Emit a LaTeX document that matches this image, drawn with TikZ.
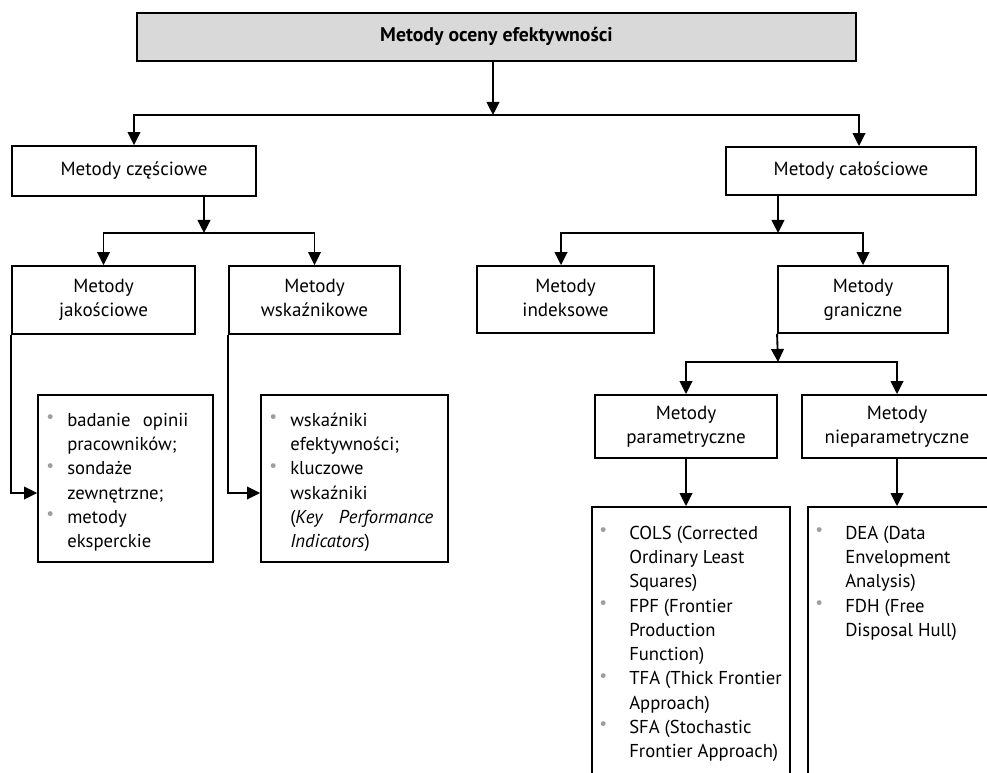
\documentclass[tikz,border=0pt]{standalone}
\usepackage{fontspec}
\setmainfont{PT Sans}
\usetikzlibrary{arrows.meta}

% one drawing unit = one screen pixel
\newdimen\pxu \pxu=0.75pt
\definecolor{titlefill}{HTML}{D9D9D9}
\definecolor{bulgray}{HTML}{9E9E9E}

% grey list bullets with hanging text column
\newcommand\bulmark{\textcolor{bulgray}{\raisebox{3.5\pxu}{\fontsize{13}{13}\selectfont\textbullet}}}
\newcommand\leftbul{\makebox[29\pxu][l]{\hspace{8\pxu}\bulmark}}
\newcommand\rightbul{\makebox[37\pxu][l]{\hspace{7\pxu}\bulmark}}
% centred lines inside a box
\newcommand\lines[1]{\begin{tabular}{@{}c@{}}#1\end{tabular}}

\tikzset{
  x=0.75pt, y=-0.75pt,
  sz/.style 2 args={minimum width=#1*0.75pt, minimum height=#2*0.75pt},
  mbox/.style={draw, line width=1.4pt, inner sep=0pt,
    font=\fontsize{14.3}{18}\selectfont},
  titlebox/.style={mbox, fill=titlefill, font=\bfseries\fontsize{14.8}{18}\selectfont},
  listtext/.style={inner sep=0pt, anchor=north west, font=\fontsize{14}{18.2}\selectfont},
  arr/.style={line width=1.4pt, -{Triangle[length=9.75pt,width=9.5pt]}},
}

\begin{document}
\begin{tikzpicture}
\useasboundingbox (0,0) rectangle (987,773);
\clip (0,0) rectangle (987,773);

% boxes
\node[titlebox, sz={719}{48}] (top) at (496.5,37) {\lines{Metody oceny efektywności}};
\node[mbox, sz={244}{50}] (czesc) at (134,171) {\lines{Metody częściowe}};
\node[mbox, sz={250}{48}] (calosc) at (851,171) {\lines{Metody całościowe}};
\node[mbox, sz={183}{68}] (jak) at (103.5,300) {\lines{Metody\\jakościowe}};
\node[mbox, sz={171}{68}] (wsk) at (314.5,300) {\lines{Metody\\wskaźnikowe}};
\node[mbox, sz={177}{67}] (indeks) at (565.5,299.5) {\lines{Metody\\indeksowe}};
\node[mbox, sz={170}{67}] (granicz) at (863,299.5) {\lines{Metody\\graniczne}};
\node[mbox, sz={182}{63}] (param) at (686,426.5) {\lines{Metody\\parametryczne}};
\node[mbox, sz={190}{63}] (nieparam) at (897,426.5) {\lines{Metody\\nieparametryczne}};

% list boxes
\node[mbox, sz={175}{167}] (jaklist) at (125.5,478.5) {};
\node[mbox, sz={187}{167}] (wsklist) at (354.5,478.5) {};
\node[mbox, sz={198}{293}] (paramlist) at (691,653.5) {};
\node[mbox, sz={192}{293}] (nieplist) at (904,653.5) {};

\node[listtext] (jaktxt) at (38,409) {\begin{tabular}{@{}l@{}l@{}}
\leftbul & \makebox[121\pxu][s]{badanie opinii}\\
 & pracowników;\\
\leftbul & sondaże\\
 & zewnętrzne;\\
\leftbul & metody\\
 & eksperckie
\end{tabular}};

\node[listtext] (wsktxt) at (261,409) {\begin{tabular}{@{}l@{}l@{}}
\leftbul & wskaźniki\\
 & efektywności;\\
\leftbul & kluczowe\\
 & wskaźniki\\
 & \makebox[143\pxu][s]{(\textit{Key Performance}}\\
 & \textit{Indicators})
\end{tabular}};

\node[listtext] (paramtxt) at (592,522) {\begin{tabular}{@{}l@{}l@{}}
\rightbul & COLS (Corrected\\
 & Ordinary Least\\
 & Squares)\\
\rightbul & FPF (Frontier\\
 & Production\\
 & Function)\\
\rightbul & TFA (Thick Frontier\\
 & Approach)\\
\rightbul & SFA (Stochastic\\
 & Frontier Approach)
\end{tabular}};

\node[listtext] (nieptxt) at (808,522) {\begin{tabular}{@{}l@{}l@{}}
\rightbul & DEA (Data\\
 & Envelopment\\
 & Analysis)\\
\rightbul & FDH (Free\\
 & Disposal Hull)
\end{tabular}};

% branching points
\coordinate (j0) at (493,115);
\coordinate (j1) at (204,233);
\coordinate (j2) at (778,233);
\coordinate (j3) at (778,362);
\coordinate (calin) at (calosc.north -| 859,0);
\coordinate (indin) at (indeks.north -| 561,0);
\coordinate (jakin) at (jaklist.west |- 0,493);
\coordinate (wskin) at (wsklist.west |- 0,493);

% connectors
\draw[arr] (top.south -| j0) -- (j0);
\draw[arr] (j0) -| (czesc.north);
\draw[arr] (j0) -| (calin);

\draw[arr] (czesc.south -| j1) -- (j1);
\draw[arr] (j1) -| (jak.north);
\draw[arr] (j1) -| (wsk.north);

\draw[arr] (calosc.south -| j2) -- (j2);
\draw[arr] (j2) -| (indin);
\draw[arr] (j2) -| (granicz.north);

\draw[arr] (granicz.south west) -- (j3);
\draw[arr] (j3) -| (param.north);
\draw[arr] (j3) -| (nieparam.north);

\draw[arr] (param.south) -- (param.south |- paramlist.north);
\draw[arr] (nieparam.south) -- (nieparam.south |- nieplist.north);

\draw[arr] (jak.south west) |- (jakin);
\draw[arr] (wsk.south west) |- (wskin);
\end{tikzpicture}
\end{document}
